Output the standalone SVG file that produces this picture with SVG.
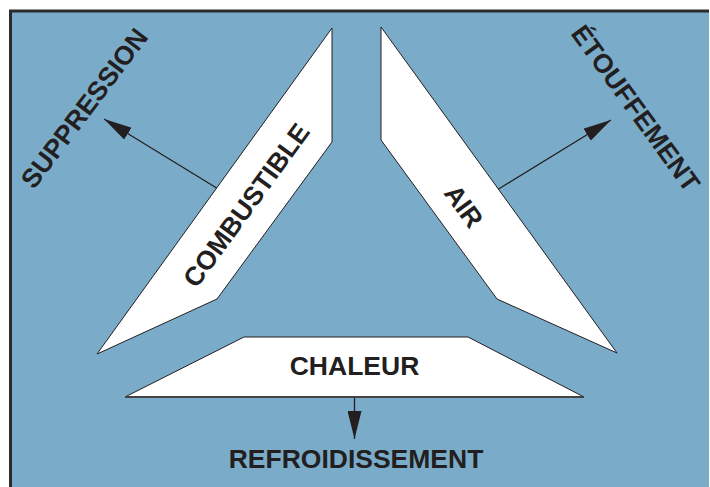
<svg xmlns="http://www.w3.org/2000/svg" width="710" height="487" viewBox="0 0 710 487">
<style>
.bg{fill:#7aacca}
.bar{fill:#ffffff;stroke:#231f20;stroke-width:1;stroke-linejoin:miter}
.lbl{font-family:"Liberation Sans",Arial,Helvetica,sans-serif;font-weight:bold;font-size:26.5px;fill:#231f20;text-anchor:middle}
.conn{stroke:#231f20;stroke-width:1.3;fill:none}
</style>
<defs>
<marker id="ah" markerUnits="userSpaceOnUse" markerWidth="28" markerHeight="14" refX="28" refY="7" orient="auto" viewBox="0 0 28 14">
<path d="M0,0 L28,7 L0,14 Z" fill="#231f20"/>
</marker>
</defs>
<rect x="0" y="0" width="710" height="487" fill="#ffffff"/>
<rect class="bg" x="10" y="11" width="699" height="476"/>
<path d="M10.5,487 V11 H709" fill="none" stroke="#2b2b2b" stroke-width="3"/>

<g id="connectors">
<line class="conn" x1="216.6" y1="188" x2="104" y2="119" marker-end="url(#ah)"/>
<line class="conn" x1="498.5" y1="189" x2="611" y2="120" marker-end="url(#ah)"/>
<line class="conn" x1="354.5" y1="397" x2="354.5" y2="439" marker-end="url(#ah)"/>
</g>

<g id="combustible">
<polygon class="bar" points="332,28 332,142 217,299 97,354"/>
<text class="lbl" transform="translate(246,205) rotate(-54)" y="9.5">COMBUSTIBLE</text>
</g>

<g id="air">
<polygon class="bar" points="381,27 381,140 497,299 617,353"/>
<text class="lbl" transform="translate(464,206) rotate(54)" y="9.5">AIR</text>
</g>

<g id="chaleur">
<polygon class="bar" points="244,337 468,337 584,397 125,397"/>
<line x1="125" y1="397" x2="584" y2="397" stroke="#444" stroke-width="2"/>
<text class="lbl" x="354.5" y="375">CHALEUR</text>
</g>

<g id="suppression">
<text class="lbl" transform="translate(84,108) rotate(-53)" y="9.5">SUPPRESSION</text>
</g>

<g id="etouffement">
<text class="lbl" transform="translate(636,108) rotate(54)" y="9.5">ÉTOUFFEMENT</text>
</g>

<g id="refroidissement">
<text class="lbl" x="356" y="468">REFROIDISSEMENT</text>
</g>
</svg>
